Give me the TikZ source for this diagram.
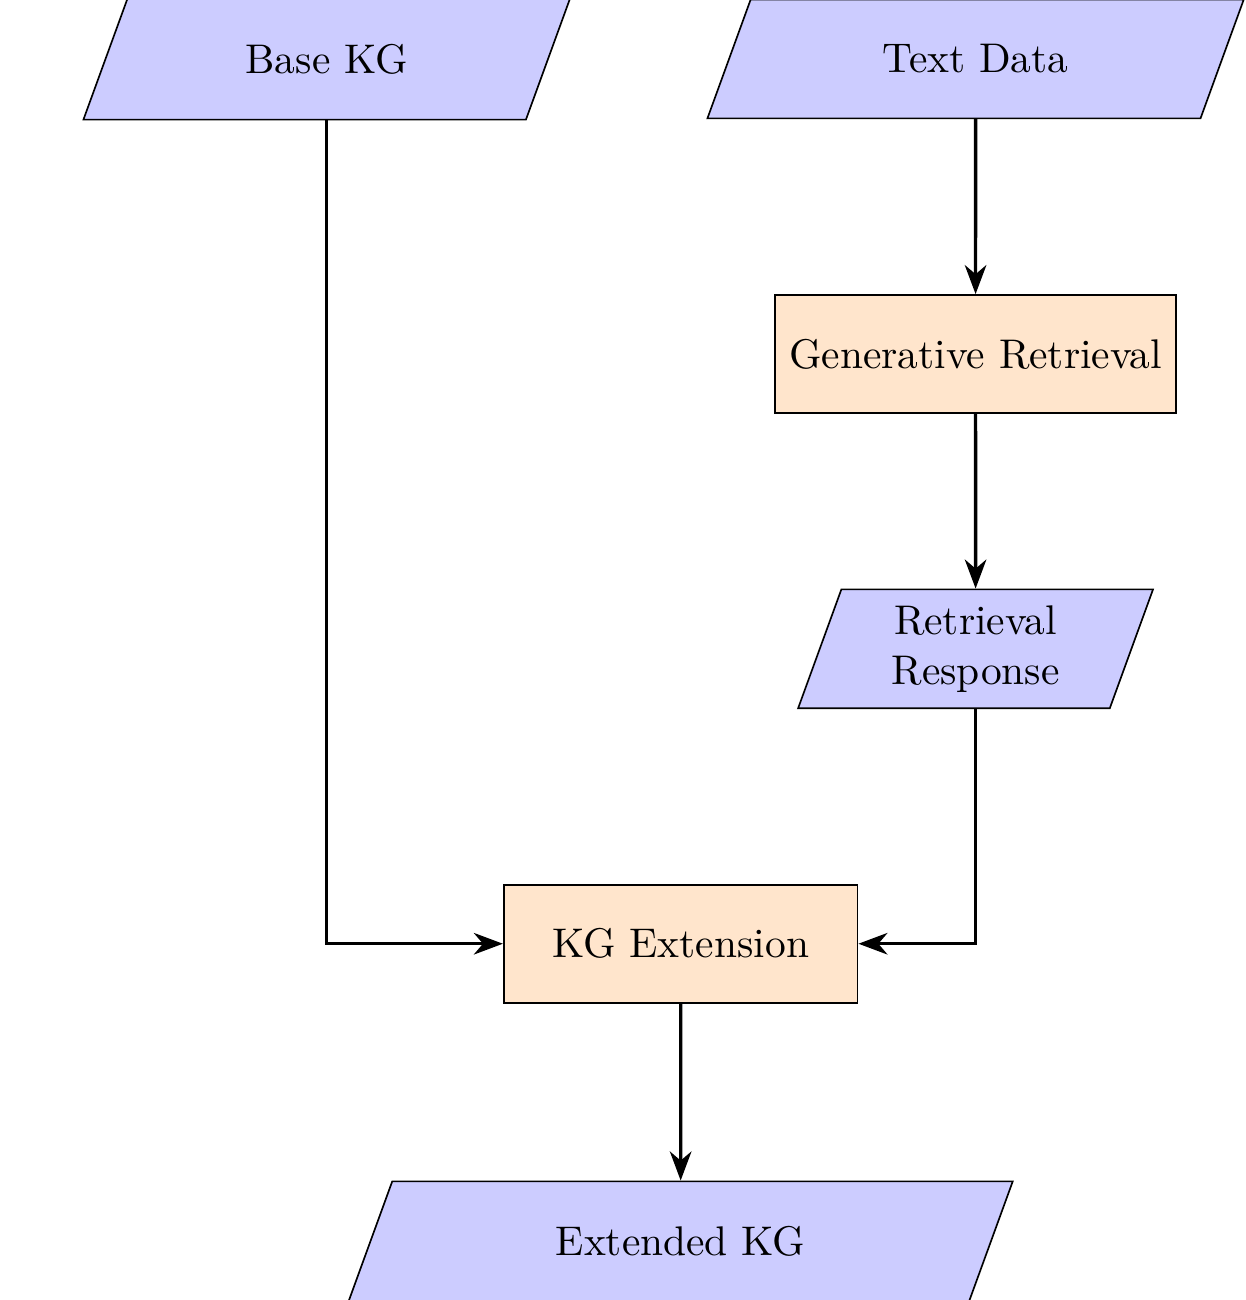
\documentclass[tikz,border=0pt]{standalone}
\usepackage{tikz}
\usetikzlibrary{arrows.meta,calc,positioning}
\usetikzlibrary{shapes}

\begin{document}
\begin{tikzpicture}[->,>={Stealth[length=7pt,width=5.2pt,inset=2.2pt]},thick,node distance=1.5cm,
  io/.style={trapezium,trapezium left angle=70,trapezium right angle=110,
    draw,thin,fill=blue!20,minimum height=1cm,minimum width=3cm,align=center},
  process/.style={rectangle,draw,thin,fill=orange!20,minimum height=1cm,
    minimum width=3cm,align=center}]

  \useasboundingbox (-5.77,-3.02) rectangle (4.79,8.0);

  \node[process] (ext) {KG Extension};
  \node[io,minimum width=5.64cm] (out) [below=of ext] {Extended KG};
  \node[io,inner ysep=0pt,minimum width=3.03cm] (resp) at (2.5,2.5) {Retrieval\\Response};
  \node[process] (gen) at (2.5,5) {Generative Retrieval};
  \node[io,minimum width=4.55cm] (text) at (2.5,7.5) {Text Data};
  \node[io,minimum width=4.13cm] (base) at (-3,7.5) {Base KG};

  \draw (text) -- (gen);
  \draw (gen) -- (resp);
  \draw (base) |- (ext);
  \draw (resp) |- (ext);
  \draw (ext) -- (out);
\end{tikzpicture}
\end{document}
